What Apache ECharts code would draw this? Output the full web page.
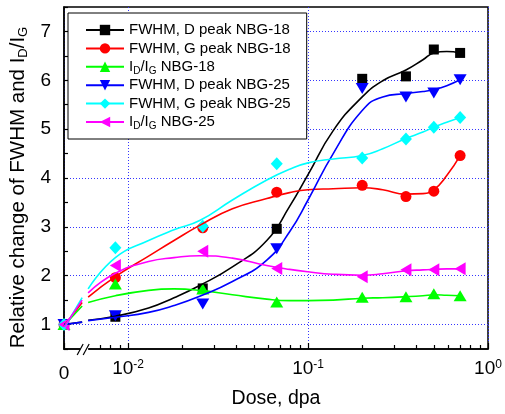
<!DOCTYPE html>
<html>
<head>
<meta charset="utf-8">
<script src="https://cdn.jsdelivr.net/npm/echarts@6/dist/echarts.min.js"></script>
<style>
  html, body { margin: 0; padding: 0; background: #fff; }
  #chart { width: 505px; height: 414px; }
</style>
</head>
<body>
<div id="chart"></div>
<script>
// 剂量 (dpa)，0 = 未辐照
const dose = [0, 0.0085, 0.026, 0.067, 0.2, 0.35, 0.5, 0.7]

// 测量点
const fwhmD18 = [1.0, 1.16, 1.74, 2.96, 6.03, 6.08, 6.63, 6.56]
const fwhmG18 = [1.0, 1.96, 2.98, 3.71, 3.85, 3.62, 3.73, 4.46]
const ratio18 = [1.0, 1.83, 1.73, 1.46, 1.56, 1.57, 1.63, 1.59]
const fwhmD25 = [1.0, 1.18, 1.42, 2.55, 5.83, 5.66, 5.74, 6.01]
const fwhmG25 = [1.0, 2.57, 3.01, 4.29, 4.41, 4.80, 5.04, 5.24]
const ratio25 = [1.0, 2.21, 2.50, 2.15, 1.98, 2.12, 2.12, 2.14]

// 拟合曲线
const fitDose = [0, 0.0009, 0.006, 0.0085, 0.013, 0.018, 0.025, 0.038, 0.059, 0.079,
  0.1, 0.138, 0.2, 0.26, 0.35, 0.435, 0.5, 0.59, 0.7]
const fitD18 = [1.0, 1.05, 1.09, 1.17, 1.34, 1.55, 1.80, 2.18, 2.72, 3.42,
  4.07, 4.97, 5.66, 5.99, 6.21, 6.42, 6.56, 6.59, 6.56]
const fitG18 = [0.97, 1.45, 1.56, 1.98, 2.40, 2.72, 3.03, 3.37, 3.58, 3.70,
  3.76, 3.78, 3.80, 3.76, 3.67, 3.68, 3.76, 4.05, 4.46]
const fitR18 = [0.98, 1.38, 1.45, 1.59, 1.70, 1.73, 1.70, 1.61, 1.52, 1.49,
  1.49, 1.50, 1.54, 1.55, 1.57, 1.59, 1.61, 1.60, 1.59]
const fitD25 = [1.0, 1.05, 1.08, 1.15, 1.25, 1.39, 1.58, 1.88, 2.32, 2.90,
  3.55, 4.50, 5.38, 5.66, 5.73, 5.77, 5.81, 5.89, 6.01]
const fitG25 = [0.92, 1.55, 1.73, 2.37, 2.72, 2.94, 3.13, 3.55, 3.96, 4.18,
  4.31, 4.39, 4.46, 4.60, 4.81, 4.94, 5.04, 5.14, 5.24]
const fitR25 = [0.95, 1.50, 1.65, 2.05, 2.29, 2.37, 2.41, 2.36, 2.21, 2.13,
  2.08, 2.03, 2.01, 2.04, 2.10, 2.12, 2.13, 2.14, 2.14]

const names = ['FWHM, D peak NBG-18', 'FWHM, G peak NBG-18', 'I_D/I_G NBG-18',
  'FWHM, D peak NBG-25', 'FWHM, G peak NBG-25', 'I_D/I_G NBG-25']
const points = [fwhmD18, fwhmG18, ratio18, fwhmD25, fwhmG25, ratio25]
const fits = [fitD18, fitG18, fitR18, fitD25, fitG25, fitR25]

// 刻度
const yTicks = [1, 2, 3, 4, 5, 6, 7]
const xDecades = [-2, -1, 0]
const xMinorTicks = [0.007, 0.008, 0.009,
  0.02, 0.03, 0.04, 0.05, 0.06, 0.07, 0.08, 0.09,
  0.2, 0.3, 0.4, 0.5, 0.6, 0.7, 0.8, 0.9]

const colors = ['#000000', '#ff0000', '#00ff00', '#0000ff', '#00ffff', '#ff00ff']
const symbols = ['rect', 'circle', 'triangle', 'path://M0,0L10,0L5,9Z', 'diamond', 'path://M0,5L9,0L9,10Z']
const sizes = [10, 11, [13, 11], [13, 11], [12, 13], [11, 13]]
const FONT = 'Liberation Sans, Arial, sans-serif'
const GRID_COLOR = '#3535ff'

// 坐标轴：0 附近一小段线性，断开后为对数
const X_MIN = -2.356
const X_MAX = 0
const X_BRK = -2.244
const BREAK_LO = 0.001
const Y_MIN = 0.5
const Y_MAX = 7.5

const xPos = (d) => d < BREAK_LO ? X_MIN + (d / BREAK_LO) * (X_BRK - X_MIN) : Math.log10(d)

const toLine = (ys) => {
  const out = []
  fitDose.forEach((d, i) => {
    if (i > 0 && fitDose[i - 1] < BREAK_LO && d >= BREAK_LO) out.push([xPos(d), '-'])
    out.push([xPos(d), ys[i]])
  })
  return out
}

// I_D -> 下标
const richName = (name) => name.split(/(_[A-Z])/).filter(Boolean)
  .map(p => p[0] === '_' ? `{s|${p.slice(1)}}` : `{n|${p}}`).join('')

const chart = echarts.init(document.getElementById('chart'))

const series = []
names.forEach((name, k) => {
  series.push({
    name,
    type: 'line',
    xAxisIndex: 0,
    yAxisIndex: 0,
    data: toLine(fits[k]),
    smooth: 0.5,
    showSymbol: false,
    symbol: symbols[k],
    symbolSize: sizes[k],
    lineStyle: { color: colors[k], width: 1.6 },
    itemStyle: { color: colors[k] },
    silent: true
  })
})
names.forEach((name, k) => {
  series.push({
    name,
    type: 'scatter',
    xAxisIndex: 0,
    yAxisIndex: 0,
    data: dose.map((d, i) => [xPos(d), points[k][i]]),
    symbol: symbols[k],
    symbolSize: sizes[k],
    itemStyle: { color: colors[k], opacity: 1 }
  })
})

const option = {
  animation: false,
  backgroundColor: '#fff',
  grid: {
    left: 64, top: 7, width: 424, height: 343,
    show: true, borderColor: '#000', borderWidth: 1.5, backgroundColor: 'rgba(0,0,0,0)'
  },
  legend: {
    data: names,
    orient: 'vertical',
    left: 68,
    top: 13,
    itemWidth: 38,
    itemHeight: 13,
    itemGap: 0.4,
    padding: [8, 16, 8, 17],
    borderColor: '#000',
    borderWidth: 1,
    backgroundColor: '#fff',
    selectedMode: false,
    formatter: richName,
    textStyle: {
      fontFamily: FONT, fontSize: 15, color: '#000', lineHeight: 18,
      rich: {
        n: { fontFamily: FONT, fontSize: 15, color: '#000', lineHeight: 18 },
        s: { fontFamily: FONT, fontSize: 10, color: '#000', lineHeight: 8, verticalAlign: 'bottom' }
      }
    }
  },
  xAxis: [
    {
      type: 'value',
      position: 'bottom',
      min: X_MIN,
      max: X_MAX,
      splitNumber: 2,
      axisLine: { onZero: false, lineStyle: { color: '#000', width: 1.5 } },
      axisTick: { inside: true, length: 6, lineStyle: { color: '#000', width: 1.2 } },
      axisLabel: {
        showMinLabel: true,
        showMaxLabel: true,
        margin: 10,
        color: '#000',
        formatter: (v) => {
          if (Math.abs(v - X_MIN) < 1e-6) return '{z|0}'
          const e = xDecades.find(d => Math.abs(d - v) < 1e-6)
          return e === undefined ? '' : `{b|10}{p|${e}}`
        },
        rich: {
          b: { fontFamily: FONT, fontSize: 19, color: '#000', lineHeight: 19, verticalAlign: 'bottom' },
          p: { fontFamily: FONT, fontSize: 12, color: '#000', lineHeight: 11, verticalAlign: 'top' },
          z: { fontFamily: FONT, fontSize: 19, color: '#000', lineHeight: 29 }
        }
      },
      splitLine: { show: true, lineStyle: { color: GRID_COLOR, type: [1, 2], width: 1 } },
      name: 'Dose, dpa',
      nameLocation: 'middle',
      nameGap: 40,
      nameTextStyle: { fontFamily: FONT, fontSize: 19.5, color: '#000' }
    },
    {
      type: 'value',
      position: 'bottom',
      min: X_MIN,
      max: X_MAX,
      axisLine: { show: false, onZero: false },
      axisLabel: { show: false },
      splitLine: { show: false },
      axisTick: {
        show: true, inside: true, length: 4,
        customValues: xMinorTicks.map(Math.log10),
        lineStyle: { color: '#000', width: 1.2 }
      }
    }
  ],
  yAxis: [
    {
      type: 'value',
      position: 'left',
      min: Y_MIN,
      max: Y_MAX,
      interval: 0.5,
      axisLine: { show: true, onZero: false, lineStyle: { color: '#000', width: 1.5 } },
      axisTick: { inside: true, length: 4, lineStyle: { color: '#000', width: 1.2 } },
      axisLabel: {
        margin: 13, fontFamily: FONT, fontSize: 19, color: '#000',
        formatter: (v) => yTicks.includes(v) ? String(v) : ''
      },
      splitLine: { show: false },
      name: '{n|Relative change of FWHM and I}{s|D}{n|/I}{s|G}',
      nameLocation: 'middle',
      nameGap: 32,
      nameTextStyle: {
        padding: [0, 19, 0, 0],
        rich: {
          n: { fontFamily: FONT, fontSize: 20.5, color: '#000', lineHeight: 22 },
          s: { fontFamily: FONT, fontSize: 13, color: '#000', lineHeight: 10, verticalAlign: 'bottom' }
        }
      }
    },
    {
      type: 'value',
      position: 'left',
      min: Y_MIN,
      max: Y_MAX,
      splitNumber: 7,
      axisLine: { show: false, onZero: false },
      axisTick: { show: false, customValues: yTicks },
      axisLabel: { show: false },
      splitLine: { show: true, lineStyle: { color: GRID_COLOR, type: [1, 2], width: 1 } }
    }
  ],
  series
}

chart.setOption(option)

// 轴断裂标记 //
const bx = chart.convertToPixel({ xAxisIndex: 0 }, X_BRK)
const by = chart.convertToPixel({ yAxisIndex: 0 }, Y_MIN)
chart.setOption({
  graphic: [
    { type: 'rect', shape: { x: bx - 4, y: by - 2, width: 8, height: 4 }, style: { fill: '#fff' }, z: 100 },
    { type: 'line', shape: { x1: bx - 7, y1: by + 6, x2: bx - 1, y2: by - 5 }, style: { stroke: '#000', lineWidth: 1.2 }, z: 101 },
    { type: 'line', shape: { x1: bx - 1, y1: by + 6, x2: bx + 5, y2: by - 5 }, style: { stroke: '#000', lineWidth: 1.2 }, z: 101 }
  ]
})
</script>
</body>
</html>
